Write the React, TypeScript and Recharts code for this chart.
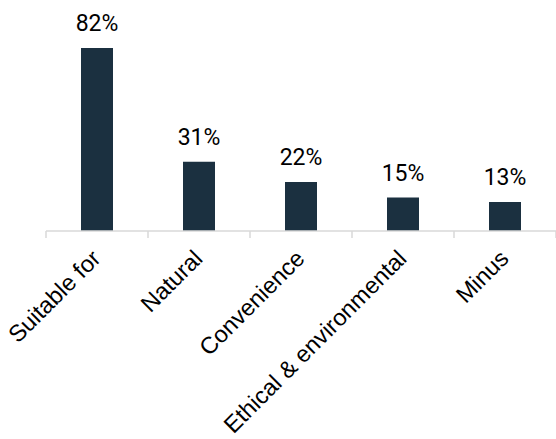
import { Bar, BarChart, LabelList, XAxis, YAxis } from "recharts";

const categories = [
  "Suitable for",
  "Natural",
  "Convenience",
  "Ethical & environmental",
  "Minus",
];
const shares = [82, 31, 22, 15, 13];

const data = categories.map((name, i) => ({ name, share: shares[i] }));

const W = 556;
const H = 439;
const margin = { top: 48, right: 0, left: 46, bottom: 0 };
const band = (W - margin.left - margin.right) / categories.length;
const valueFont = "Roboto, 'Noto Sans', sans-serif";
const labelFont = "'Liberation Sans', Arial, sans-serif";

function CategoryTick(props: any) {
  const { x, y, payload, index } = props;
  const last = index === categories.length - 1;
  const ax = x + 5;
  const ay = y + 21;
  return (
    <g>
      <line x1={x - band / 2} x2={x - band / 2} y1={y - 8} y2={y - 1} stroke="#d9d9d9" strokeWidth={1.5} />
      {last && (
        <line x1={x + band / 2} x2={x + band / 2} y1={y - 8} y2={y - 1} stroke="#d9d9d9" strokeWidth={1.5} />
      )}
      <text
        x={ax}
        y={ay}
        textAnchor="end"
        transform={`rotate(-45, ${ax}, ${ay})`}
        fontSize={23.5}
        fontFamily={labelFont}
        fill="#000"
      >
        {payload.value}
      </text>
    </g>
  );
}

export default function App() {
  return (
    <div style={{ position: "absolute", left: 0, top: 0, background: "#fff" }}>
      <BarChart width={W} height={H} data={data} margin={margin} barCategoryGap={0}>
        <XAxis
          dataKey="name"
          height={H - 231}
          interval={0}
          tickLine={false}
          axisLine={{ stroke: "#d9d9d9", strokeWidth: 1.5 }}
          tick={<CategoryTick />}
        />
        <YAxis hide domain={[0, "dataMax"]} />
        <Bar dataKey="share" fill="#1b3040" barSize={32} isAnimationActive={false}>
          <LabelList
            dataKey="share"
            position="top"
            offset={17}
            formatter={(v: any) => `${v}%`}
            style={{ fontSize: 23, fontFamily: valueFont, fill: "#000" }}
          />
        </Bar>
      </BarChart>
    </div>
  );
}
